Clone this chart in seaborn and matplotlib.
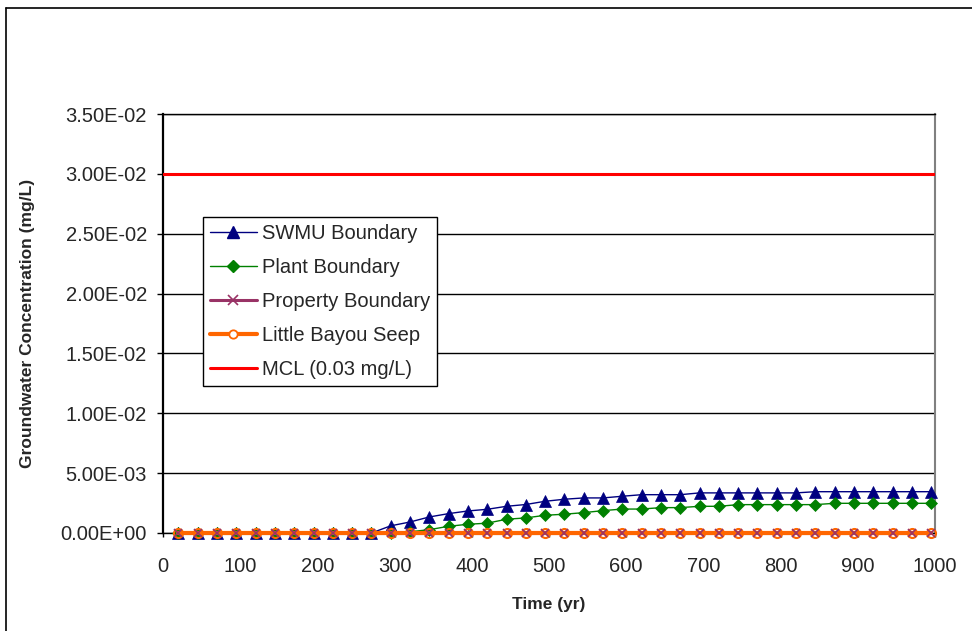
import numpy as np
import matplotlib
matplotlib.use("Agg")
import matplotlib.pyplot as plt
from matplotlib.lines import Line2D
from matplotlib.ticker import FuncFormatter
import seaborn as sns

# ---- data ----
time_yr = [20, 45, 70, 95, 120, 145, 170, 195, 220, 245,
           270, 295, 320, 345, 370, 395, 420, 445, 470, 495,
           520, 545, 570, 595, 620, 645, 670, 695, 720, 745,
           770, 795, 820, 845, 870, 895, 920, 945, 970, 995]
swmu = [0, 0, 0, 0, 0, 0, 0, 0, 0, 0,
        0, 0.0006, 0.00092, 0.00134, 0.00162, 0.00184, 0.00198, 0.00223, 0.00238, 0.00265,
        0.00282, 0.00293, 0.00293, 0.00307, 0.0032, 0.0032, 0.0032, 0.00335, 0.00335, 0.00335,
        0.00335, 0.00335, 0.00335, 0.00345, 0.00345, 0.00345, 0.00345, 0.00345, 0.00345, 0.00345]
plant = [0, 0, 0, 0, 0, 0, 0, 0, 0, 0,
         0, 0.00003, 0.0001, 0.00028, 0.00056, 0.00073, 0.00082, 0.00115, 0.00126, 0.00148,
         0.00157, 0.0017, 0.00187, 0.002, 0.002, 0.00212, 0.00212, 0.00223, 0.00223, 0.00237,
         0.00237, 0.00237, 0.00237, 0.00237, 0.00248, 0.00248, 0.00248, 0.00248, 0.00248, 0.00248]
prop = [0] * 40
bayou = [0] * 40
mcl_x = [0, 1000]
mcl_y = [0.03, 0.03]

labels = ["SWMU Boundary", "Plant Boundary", "Property Boundary",
          "Little Bayou Seep", "MCL (0.03 mg/L)"]
x_ticks = [0, 100, 200, 300, 400, 500, 600, 700, 800, 900, 1000]
y_ticks = [0, 0.005, 0.01, 0.015, 0.02, 0.025, 0.03, 0.035]

# ---- style ----
sns.set_style("white")
plt.rcParams['font.family'] = ['Liberation Sans', 'DejaVu Sans']

c_swmu, c_plant, c_prop, c_bayou, c_mcl = "#000080", "#008000", "#993366", "#FF6600", "#FF0000"

fig = plt.figure(figsize=(9.72, 6.31), dpi=100)
ax = fig.add_axes([163/972, 98/631, 772/972, 419/631])

sns.lineplot(x=time_yr, y=swmu, ax=ax, color=c_swmu, lw=1.0, marker="^",
             markersize=8.5, markeredgecolor=c_swmu, markerfacecolor=c_swmu,
             markeredgewidth=0.5, zorder=3, clip_on=False)
sns.lineplot(x=time_yr, y=plant, ax=ax, color=c_plant, lw=1.0, marker="D",
             markersize=6.5, markeredgecolor=c_plant, markerfacecolor=c_plant,
             markeredgewidth=0.5, zorder=4, clip_on=False)
sns.lineplot(x=time_yr, y=prop, ax=ax, color=c_prop, lw=2.2, zorder=5, clip_on=False)
sns.lineplot(x=time_yr, y=bayou, ax=ax, color=c_bayou, lw=3.0, marker="o",
             markersize=6.5, markeredgecolor=c_bayou, markerfacecolor="none",
             markeredgewidth=1.5, zorder=6, clip_on=False)
sns.lineplot(x=time_yr, y=prop, ax=ax, color=c_prop, lw=0, marker="x",
             markersize=6, markeredgecolor=c_prop, markeredgewidth=1.2,
             zorder=7, clip_on=False)
sns.lineplot(x=mcl_x, y=mcl_y, ax=ax, color=c_mcl, lw=2.2, zorder=8)

ax.set_xlim(0, 1000)
ax.set_ylim(0, 0.035)
ax.set_xticks(x_ticks)
ax.set_yticks(y_ticks)
ax.yaxis.set_major_formatter(FuncFormatter(lambda v, p: f"{v:.2E}"))
ax.tick_params(axis="y", direction="out", length=4.5, width=1, pad=7,
               labelsize=14.5, color="black", left=True)
ax.tick_params(axis="x", direction="out", length=3, width=1, pad=14,
               labelsize=14.5, color="black", bottom=True)

ax.yaxis.grid(True, color="black", lw=1.0)
ax.xaxis.grid(False)
ax.set_axisbelow(True)

for side in ["left", "bottom", "top"]:
    ax.spines[side].set_color("black")
ax.spines["left"].set_linewidth(1.6)
ax.spines["bottom"].set_linewidth(1.0)
ax.spines["top"].set_linewidth(1.0)
ax.spines["right"].set_color("#808080")
ax.spines["right"].set_linewidth(1.5)

ax.set_xlabel("Time (yr)", fontsize=12.5, fontweight="bold", labelpad=10)
ax.set_ylabel("Groundwater Concentration (mg/L)", fontsize=12.5, fontweight="bold", labelpad=10)
ax.yaxis.set_label_coords(-(163 - 35) / 772, 0.5)
ax.xaxis.set_label_coords(0.5, -(597 - 533) / 419)

handles = [
    Line2D([], [], color=c_swmu, lw=1.0, marker="^", ms=8.5, mec=c_swmu, mfc=c_swmu),
    Line2D([], [], color=c_plant, lw=1.0, marker="D", ms=6.5, mec=c_plant, mfc=c_plant),
    Line2D([], [], color=c_prop, lw=2.2, marker="x", ms=7, mec=c_prop, mew=1.2),
    Line2D([], [], color=c_bayou, lw=3.0, marker="o", ms=6, mec=c_bayou, mfc="white", mew=1.3),
    Line2D([], [], color=c_mcl, lw=2.2),
]
leg = ax.legend(handles, labels, loc="upper left",
                bbox_to_anchor=((202.7 - 163) / 772, (533 - 216.7) / 419),
                borderaxespad=0, fontsize=14.5, frameon=True, fancybox=False,
                edgecolor="black", framealpha=1, handlelength=2.35,
                handletextpad=0.25, labelspacing=0.75, borderpad=0.35)
leg.get_frame().set_linewidth(1.0)
leg.set_zorder(10)

# outer chart-area border (top and left visible)
fig.add_artist(Line2D([6/972, 6/972], [0, 1 - 8/631], transform=fig.transFigure,
                      color="black", lw=1.2))
fig.add_artist(Line2D([6/972, 1], [1 - 8/631, 1 - 8/631], transform=fig.transFigure,
                      color="black", lw=1.2))

fig.savefig("out.png", dpi=100, facecolor="white")
